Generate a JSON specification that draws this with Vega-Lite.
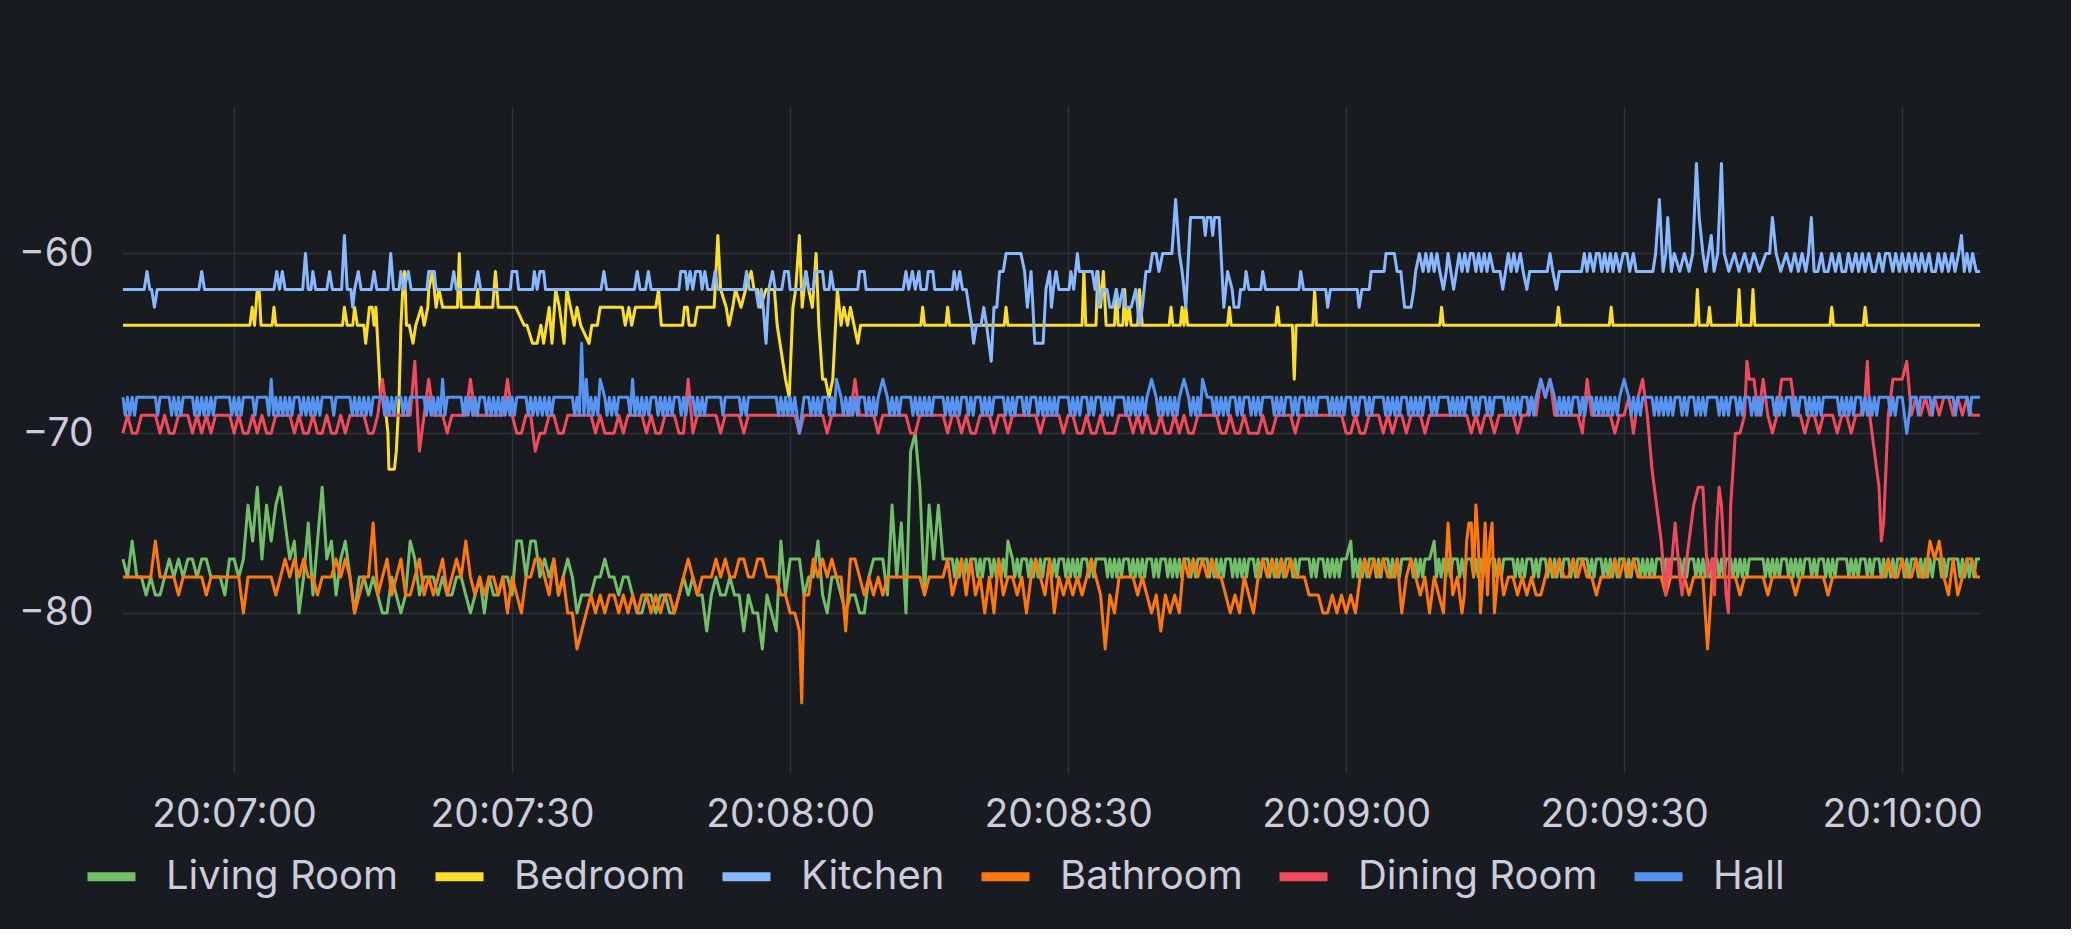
{
"$schema": "https://vega.github.io/schema/vega-lite/v6.json",
"width": 1858,
"height": 667,
"autosize": {"type": "none"},
"padding": {"left": 122, "top": 106, "right": 91, "bottom": 156},
"background": "#181b1f",
"config": {"view": {"stroke": null}, "font": "Inter"},
"data": {"values": [
{"s":408,"L":-77,"B":-64,"K":-62,"T":-78,"D":-70,"H":-68},
{"s":408.5,"L":-78,"T":-78,"D":-69,"H":-68},
{"s":409,"L":-76,"T":-78,"D":-70,"H":-68},
{"s":409.5,"L":-78,"T":-78,"D":-70,"H":-68},
{"s":410,"L":-78,"T":-78,"D":-69,"H":-68},
{"s":410.5,"L":-79,"T":-78,"D":-69,"H":-68},
{"s":411,"L":-78,"T":-78,"D":-69,"H":-68},
{"s":411.5,"L":-79,"T":-76,"D":-69,"H":-68},
{"s":412,"L":-79,"T":-78,"D":-70,"H":-68},
{"s":412.5,"L":-78,"T":-78,"D":-69,"H":-68},
{"s":413,"L":-77,"T":-78,"D":-70,"H":-68},
{"s":413.5,"L":-78,"T":-78,"D":-70,"H":-68},
{"s":414,"L":-77,"T":-79,"D":-69,"H":-68},
{"s":414.5,"L":-78,"T":-78,"D":-69,"H":-68},
{"s":415,"L":-77,"T":-78,"D":-69,"H":-68},
{"s":415.5,"L":-77,"T":-78,"D":-70,"H":-68},
{"s":416,"L":-78,"T":-78,"D":-69,"H":-68},
{"s":416.5,"L":-77,"T":-78,"D":-70,"H":-68},
{"s":417,"L":-77,"T":-79,"D":-69,"H":-68},
{"s":417.5,"L":-78,"T":-78,"D":-70,"H":-68},
{"s":418,"L":-78,"T":-78,"D":-69,"H":-68},
{"s":418.5,"L":-78,"T":-78,"D":-69,"H":-68},
{"s":419,"L":-79,"T":-78,"D":-69,"H":-68},
{"s":419.5,"L":-77,"T":-78,"D":-69,"H":-68},
{"s":420,"L":-77,"T":-78,"D":-70,"H":-68},
{"s":420.5,"L":-78,"T":-78,"D":-69,"H":-68},
{"s":421,"L":-77,"T":-80,"D":-70,"H":-68},
{"s":421.5,"L":-74,"T":-78,"D":-70,"H":-68},
{"s":422,"L":-76,"T":-78,"D":-69,"H":-68},
{"s":422.5,"L":-73,"T":-78,"D":-70,"H":-68},
{"s":423,"L":-77,"T":-78,"D":-69,"H":-68},
{"s":423.5,"L":-74,"T":-78,"D":-70,"H":-68},
{"s":424,"L":-76,"T":-78,"D":-70,"H":-67},
{"s":424.5,"L":-74,"T":-79,"D":-69,"H":-68},
{"s":425,"L":-73,"T":-78,"D":-69,"H":-68},
{"s":425.5,"L":-75,"T":-77,"D":-69,"H":-68},
{"s":426,"L":-77,"T":-78,"D":-69,"H":-68},
{"s":426.5,"L":-76,"T":-77,"D":-70,"H":-68},
{"s":427,"L":-80,"T":-78,"D":-69,"H":-68},
{"s":427.5,"L":-78,"T":-77,"D":-70,"H":-68},
{"s":428,"L":-75,"T":-78,"D":-70,"H":-68},
{"s":428.5,"L":-79,"T":-78,"D":-69,"H":-68},
{"s":429,"L":-76,"T":-79,"D":-70,"H":-68},
{"s":429.5,"L":-73,"T":-78,"D":-70,"H":-68},
{"s":430,"L":-77,"T":-78,"D":-69,"H":-68},
{"s":430.5,"L":-76,"T":-78,"D":-70,"H":-68},
{"s":431,"L":-79,"T":-77,"D":-70,"H":-68},
{"s":431.5,"L":-77,"T":-78,"D":-69,"H":-68},
{"s":432,"L":-76,"T":-77,"D":-70,"H":-68},
{"s":432.5,"L":-78,"T":-78,"D":-69,"H":-68},
{"s":433,"L":-80,"T":-80,"D":-69,"H":-68},
{"s":433.5,"L":-78,"T":-79,"D":-69,"H":-68},
{"s":434,"L":-78,"T":-78,"D":-69,"H":-68},
{"s":434.5,"L":-79,"T":-78,"D":-70,"H":-68},
{"s":435,"L":-78,"T":-75,"D":-70,"H":-68},
{"s":435.5,"L":-79,"T":-79,"D":-69,"H":-68},
{"s":436,"L":-80,"T":-78,"D":-67,"H":-68},
{"s":436.5,"L":-80,"T":-77,"D":-69,"H":-68},
{"s":437,"L":-78,"T":-79,"D":-69,"H":-68},
{"s":437.5,"L":-79,"T":-78,"D":-69,"H":-68},
{"s":438,"L":-80,"T":-77,"D":-69,"H":-68},
{"s":438.5,"L":-79,"T":-79,"D":-69,"H":-68},
{"s":439,"L":-76,"T":-79,"D":-69,"H":-68},
{"s":439.5,"L":-77,"T":-78,"D":-66,"H":-68},
{"s":440,"L":-79,"T":-77,"D":-71,"H":-68},
{"s":440.5,"L":-78,"T":-79,"D":-69,"H":-68},
{"s":441,"L":-78,"T":-78,"D":-67,"H":-68},
{"s":441.5,"L":-78,"T":-79,"D":-69,"H":-68},
{"s":442,"L":-79,"T":-78,"D":-69,"H":-68},
{"s":442.5,"L":-78,"T":-77,"D":-69,"H":-67},
{"s":443,"L":-79,"T":-79,"D":-70,"H":-68},
{"s":443.5,"L":-79,"T":-78,"D":-69,"H":-68},
{"s":444,"L":-78,"T":-77,"D":-69,"H":-68},
{"s":444.5,"L":-78,"T":-78,"D":-69,"H":-68},
{"s":445,"L":-79,"T":-76,"D":-69,"H":-68},
{"s":445.5,"L":-80,"T":-78,"D":-67,"H":-68},
{"s":446,"L":-79,"T":-79,"D":-69,"H":-68},
{"s":446.5,"L":-78,"T":-78,"D":-69,"H":-68},
{"s":447,"L":-80,"T":-79,"D":-69,"H":-68},
{"s":447.5,"L":-78,"T":-78,"D":-69,"H":-68},
{"s":448,"L":-79,"T":-78,"D":-69,"H":-68},
{"s":448.5,"L":-79,"T":-79,"D":-69,"H":-68},
{"s":449,"L":-78,"T":-78,"D":-69,"H":-68},
{"s":449.5,"L":-78,"T":-80,"D":-67,"H":-68},
{"s":450,"L":-79,"T":-78,"D":-69,"H":-68},
{"s":450.5,"L":-76,"T":-79,"D":-70,"H":-68},
{"s":451,"L":-76,"T":-80,"D":-70,"H":-68},
{"s":451.5,"L":-78,"T":-78,"D":-69,"H":-68},
{"s":452,"L":-76,"T":-78,"D":-69,"H":-68},
{"s":452.5,"L":-76,"T":-77,"D":-71,"H":-68},
{"s":453,"L":-78,"T":-77,"D":-70,"H":-68},
{"s":453.5,"L":-77,"T":-78,"D":-70,"H":-68},
{"s":454,"L":-78,"T":-79,"D":-69,"H":-68},
{"s":454.5,"L":-77,"T":-77,"D":-69,"H":-68},
{"s":455,"L":-79,"T":-79,"D":-70,"H":-68},
{"s":455.5,"L":-78,"T":-78,"D":-70,"H":-68},
{"s":456,"L":-77,"T":-80,"D":-69,"H":-68},
{"s":456.5,"L":-78,"T":-80,"D":-69,"H":-68},
{"s":457,"L":-80,"T":-82,"D":-69,"H":-68},
{"s":457.5,"L":-79,"T":-81,"D":-69,"H":-65},
{"s":458,"L":-79,"T":-80,"D":-69,"H":-67},
{"s":458.5,"L":-79,"T":-79,"D":-69,"H":-68},
{"s":459,"L":-78,"T":-80,"D":-70,"H":-68},
{"s":459.5,"L":-78,"T":-79,"D":-69,"H":-67},
{"s":460,"L":-77,"T":-80,"D":-70,"H":-68},
{"s":460.5,"L":-78,"T":-79,"D":-70,"H":-68},
{"s":461,"L":-78,"T":-79,"D":-70,"H":-68},
{"s":461.5,"L":-79,"T":-80,"D":-69,"H":-68},
{"s":462,"L":-78,"T":-79,"D":-70,"H":-68},
{"s":462.5,"L":-78,"T":-80,"D":-69,"H":-68},
{"s":463,"L":-79,"T":-79,"D":-69,"H":-67},
{"s":463.5,"L":-80,"T":-80,"D":-69,"H":-68},
{"s":464,"L":-80,"T":-79,"D":-69,"H":-68},
{"s":464.5,"L":-79,"T":-79,"D":-70,"H":-68},
{"s":465,"L":-79,"T":-80,"D":-69,"H":-68},
{"s":465.5,"L":-80,"T":-79,"D":-70,"H":-68},
{"s":466,"L":-79,"T":-80,"D":-70,"H":-68},
{"s":466.5,"L":-79,"T":-79,"D":-69,"H":-68},
{"s":467,"L":-80,"T":-79,"D":-69,"H":-68},
{"s":467.5,"L":-80,"T":-80,"D":-69,"H":-68},
{"s":468,"L":-79,"T":-79,"D":-70,"H":-68},
{"s":468.5,"L":-78,"T":-78,"D":-70,"H":-68},
{"s":469,"L":-79,"T":-77,"D":-67,"H":-68},
{"s":469.5,"L":-78,"T":-78,"D":-70,"H":-68},
{"s":470,"L":-79,"T":-79,"D":-69,"H":-68},
{"s":470.5,"L":-79,"T":-78,"D":-69,"H":-68},
{"s":471,"L":-81,"T":-78,"D":-69,"H":-68},
{"s":471.5,"L":-79,"T":-78,"D":-69,"H":-68},
{"s":472,"L":-78,"T":-77,"D":-69,"H":-68},
{"s":472.5,"L":-79,"T":-78,"D":-70,"H":-68},
{"s":473,"L":-79,"T":-77,"D":-69,"H":-68},
{"s":473.5,"L":-78,"T":-78,"D":-69,"H":-68},
{"s":474,"L":-79,"T":-78,"D":-69,"H":-68},
{"s":474.5,"L":-79,"T":-77,"D":-69,"H":-68},
{"s":475,"L":-81,"T":-77,"D":-70,"H":-68},
{"s":475.5,"L":-79,"T":-78,"D":-69,"H":-68},
{"s":476,"L":-80,"T":-78,"D":-69,"H":-68},
{"s":476.5,"L":-80,"T":-77,"D":-69,"H":-68},
{"s":477,"L":-82,"T":-77,"D":-69,"H":-68},
{"s":477.5,"L":-79,"T":-78,"D":-69,"H":-68},
{"s":478,"L":-80,"T":-78,"D":-69,"H":-68},
{"s":478.5,"L":-81,"T":-78,"D":-69,"H":-68},
{"s":479,"L":-76,"T":-79,"D":-69,"H":-68},
{"s":479.5,"L":-79,"T":-79,"D":-69,"H":-68},
{"s":480,"L":-77,"T":-80,"D":-69,"H":-68},
{"s":480.5,"L":-77,"T":-80,"D":-69,"H":-68},
{"s":481,"L":-77,"T":-81,"D":-70,"H":-70},
{"s":481.25,"T":-85},
{"s":481.5,"L":-79,"T":-79,"D":-69,"H":-68},
{"s":482,"L":-78,"T":-79,"D":-69,"H":-68},
{"s":482.5,"L":-78,"T":-77,"D":-69,"H":-68},
{"s":483,"L":-76,"T":-78,"D":-69,"H":-68},
{"s":483.5,"L":-79,"T":-77,"D":-69,"H":-68},
{"s":484,"L":-80,"T":-78,"D":-70,"H":-68},
{"s":484.5,"L":-78,"T":-77,"D":-69,"H":-68},
{"s":485,"L":-78,"T":-78,"D":-69,"H":-67},
{"s":485.5,"L":-79,"T":-78,"D":-69,"H":-68},
{"s":486,"L":-80,"T":-81,"D":-69,"H":-68},
{"s":486.5,"L":-79,"T":-77,"D":-69,"H":-68},
{"s":487,"L":-79,"T":-77,"D":-67,"H":-68},
{"s":487.5,"L":-80,"T":-78,"D":-69,"H":-68},
{"s":488,"L":-80,"T":-79,"D":-69,"H":-68},
{"s":488.5,"L":-78,"T":-78,"D":-69,"H":-68},
{"s":489,"L":-77,"T":-79,"D":-69,"H":-68},
{"s":489.5,"L":-77,"T":-78,"D":-70,"H":-68},
{"s":490,"L":-77,"T":-79,"D":-69,"H":-67},
{"s":490.5,"L":-79,"T":-78,"D":-69,"H":-68},
{"s":491,"L":-74,"T":-78,"D":-69,"H":-68},
{"s":491.5,"L":-78,"T":-78,"D":-69,"H":-68},
{"s":492,"L":-75,"T":-78,"D":-69,"H":-68},
{"s":492.5,"L":-80,"T":-78,"D":-69,"H":-68},
{"s":493,"L":-71,"T":-78,"D":-70,"H":-68},
{"s":493.5,"L":-70,"T":-78,"D":-70,"H":-68},
{"s":494,"L":-73,"T":-78,"D":-69,"H":-68},
{"s":494.5,"L":-79,"T":-79,"D":-69,"H":-68},
{"s":495,"L":-74,"T":-78,"D":-69,"H":-68},
{"s":495.5,"L":-77,"T":-78,"D":-69,"H":-68},
{"s":496,"L":-74,"T":-78,"D":-69,"H":-68},
{"s":496.5,"L":-77,"T":-78,"D":-69,"H":-68},
{"s":497,"L":-77,"T":-77,"D":-70,"H":-68},
{"s":497.5,"L":-77,"T":-79,"D":-69,"H":-68},
{"s":498,"L":-77,"T":-78,"D":-69,"H":-68},
{"s":498.5,"L":-77,"T":-77,"D":-70,"H":-68},
{"s":499,"L":-77,"T":-79,"D":-69,"H":-68},
{"s":499.5,"L":-77,"T":-77,"D":-70,"H":-68},
{"s":500,"L":-77,"T":-79,"D":-70,"H":-68},
{"s":500.5,"L":-77,"T":-78,"D":-69,"H":-68},
{"s":501,"L":-77,"T":-80,"D":-69,"H":-68},
{"s":501.5,"L":-77,"T":-78,"D":-69,"H":-68},
{"s":502,"L":-77,"T":-80,"D":-70,"H":-68},
{"s":502.5,"L":-77,"T":-77,"D":-69,"H":-68},
{"s":503,"L":-77,"T":-79,"D":-69,"H":-68},
{"s":503.5,"L":-76,"T":-78,"D":-70,"H":-68},
{"s":504,"L":-77,"T":-78,"D":-69,"H":-68},
{"s":504.5,"L":-77,"T":-79,"D":-69,"H":-68},
{"s":505,"L":-77,"T":-78,"D":-69,"H":-68},
{"s":505.5,"L":-77,"T":-80,"D":-69,"H":-68},
{"s":506,"L":-77,"T":-78,"D":-69,"H":-68},
{"s":506.5,"L":-77,"T":-77,"D":-69,"H":-68},
{"s":507,"L":-77,"T":-78,"D":-70,"H":-68},
{"s":507.5,"L":-77,"T":-79,"D":-69,"H":-68},
{"s":508,"L":-77,"T":-77,"D":-69,"H":-68},
{"s":508.5,"L":-77,"T":-80,"D":-69,"H":-68},
{"s":509,"L":-77,"T":-78,"D":-69,"H":-68},
{"s":509.5,"L":-77,"T":-79,"D":-70,"H":-68},
{"s":510,"L":-77,"T":-78,"D":-69,"H":-68},
{"s":510.5,"L":-77,"T":-79,"D":-69,"H":-68},
{"s":511,"L":-77,"T":-78,"D":-70,"H":-68},
{"s":511.5,"L":-77,"T":-79,"D":-70,"H":-68},
{"s":512,"L":-77,"T":-78,"D":-69,"H":-68},
{"s":512.5,"L":-77,"T":-77,"D":-70,"H":-68},
{"s":513,"L":-77,"T":-78,"D":-70,"H":-68},
{"s":513.5,"L":-77,"T":-79,"D":-69,"H":-68},
{"s":514,"L":-77,"T":-82,"D":-70,"H":-68},
{"s":514.5,"L":-77,"T":-79,"D":-70,"H":-68},
{"s":515,"L":-77,"T":-80,"D":-70,"H":-68},
{"s":515.5,"L":-77,"T":-78,"D":-69,"H":-68},
{"s":516,"L":-77,"T":-78,"D":-69,"H":-68},
{"s":516.5,"L":-77,"T":-78,"D":-69,"H":-68},
{"s":517,"L":-77,"T":-78,"D":-70,"H":-68},
{"s":517.5,"L":-77,"T":-79,"D":-69,"H":-68},
{"s":518,"L":-77,"T":-78,"D":-70,"H":-68},
{"s":518.5,"L":-77,"T":-79,"D":-69,"H":-68},
{"s":519,"L":-77,"T":-80,"D":-70,"H":-67},
{"s":519.5,"L":-77,"T":-79,"D":-70,"H":-68},
{"s":520,"L":-77,"T":-81,"D":-69,"H":-68},
{"s":520.5,"L":-77,"T":-79,"D":-70,"H":-68},
{"s":521,"L":-77,"T":-80,"D":-70,"H":-68},
{"s":521.5,"L":-77,"T":-79,"D":-69,"H":-68},
{"s":522,"L":-77,"T":-80,"D":-70,"H":-68},
{"s":522.5,"L":-77,"T":-77,"D":-69,"H":-67},
{"s":523,"L":-77,"T":-78,"D":-70,"H":-68},
{"s":523.5,"L":-77,"T":-77,"D":-70,"H":-68},
{"s":524,"L":-77,"T":-78,"D":-69,"H":-68},
{"s":524.5,"L":-77,"T":-77,"D":-69,"H":-67},
{"s":525,"L":-77,"T":-78,"D":-69,"H":-68},
{"s":525.5,"L":-77,"T":-77,"D":-69,"H":-68},
{"s":526,"L":-77,"T":-78,"D":-69,"H":-68},
{"s":526.5,"L":-77,"T":-78,"D":-70,"H":-68},
{"s":527,"L":-77,"T":-79,"D":-70,"H":-68},
{"s":527.5,"L":-77,"T":-80,"D":-69,"H":-68},
{"s":528,"L":-77,"T":-79,"D":-70,"H":-68},
{"s":528.5,"L":-77,"T":-80,"D":-70,"H":-68},
{"s":529,"L":-77,"T":-78,"D":-69,"H":-68},
{"s":529.5,"L":-77,"T":-79,"D":-70,"H":-68},
{"s":530,"L":-77,"T":-80,"D":-70,"H":-68},
{"s":530.5,"L":-77,"T":-78,"D":-70,"H":-68},
{"s":531,"L":-77,"T":-77,"D":-69,"H":-68},
{"s":531.5,"L":-77,"T":-78,"D":-70,"H":-68},
{"s":532,"L":-77,"T":-77,"D":-70,"H":-68},
{"s":532.5,"L":-77,"T":-78,"D":-69,"H":-68},
{"s":533,"L":-77,"T":-77,"D":-69,"H":-68},
{"s":533.5,"L":-77,"T":-78,"D":-69,"H":-68},
{"s":534,"L":-77,"T":-77,"D":-69,"H":-68},
{"s":534.5,"L":-77,"T":-78,"D":-70,"H":-68},
{"s":535,"L":-77,"T":-78,"D":-69,"H":-68},
{"s":535.5,"L":-77,"T":-78,"D":-69,"H":-68},
{"s":536,"L":-77,"T":-79,"D":-69,"H":-68},
{"s":536.5,"L":-77,"T":-79,"D":-69,"H":-68},
{"s":537,"L":-77,"T":-79,"D":-69,"H":-68},
{"s":537.5,"L":-77,"T":-80,"D":-69,"H":-68},
{"s":538,"L":-77,"T":-80,"D":-69,"H":-68},
{"s":538.5,"L":-77,"T":-79,"D":-69,"H":-68},
{"s":539,"L":-77,"T":-80,"D":-69,"H":-68},
{"s":539.5,"L":-77,"T":-79,"D":-69,"H":-68},
{"s":540,"L":-77,"T":-80,"D":-70,"H":-68},
{"s":540.5,"L":-76,"T":-79,"D":-70,"H":-68},
{"s":541,"L":-77,"T":-80,"D":-69,"H":-68},
{"s":541.5,"L":-77,"T":-78,"D":-70,"H":-68},
{"s":542,"L":-77,"T":-77,"D":-70,"H":-68},
{"s":542.5,"L":-77,"T":-78,"D":-69,"H":-68},
{"s":543,"L":-77,"T":-77,"D":-69,"H":-68},
{"s":543.5,"L":-77,"T":-78,"D":-69,"H":-68},
{"s":544,"L":-77,"T":-77,"D":-70,"H":-68},
{"s":544.5,"L":-77,"T":-78,"D":-69,"H":-68},
{"s":545,"L":-77,"T":-78,"D":-70,"H":-68},
{"s":545.5,"L":-77,"T":-77,"D":-69,"H":-68},
{"s":546,"L":-77,"T":-80,"D":-69,"H":-68},
{"s":546.5,"L":-77,"T":-78,"D":-70,"H":-68},
{"s":547,"L":-77,"T":-77,"D":-69,"H":-68},
{"s":547.5,"L":-77,"T":-78,"D":-69,"H":-68},
{"s":548,"L":-77,"T":-79,"D":-69,"H":-68},
{"s":548.5,"L":-77,"T":-78,"D":-70,"H":-68},
{"s":549,"L":-77,"T":-80,"D":-69,"H":-68},
{"s":549.5,"L":-76,"T":-78,"D":-69,"H":-68},
{"s":550,"L":-77,"T":-79,"D":-69,"H":-68},
{"s":550.5,"L":-77,"T":-80,"D":-69,"H":-68},
{"s":551,"L":-77,"T":-75,"D":-69,"H":-68},
{"s":551.5,"L":-77,"T":-79,"D":-69,"H":-68},
{"s":552,"L":-77,"T":-78,"D":-69,"H":-68},
{"s":552.5,"L":-77,"T":-80,"D":-69,"H":-68},
{"s":552.75,"T":-79},
{"s":553,"L":-77,"T":-76,"D":-69,"H":-68},
{"s":553.25,"T":-75},
{"s":553.5,"L":-77,"T":-75,"D":-70,"H":-68},
{"s":553.75,"T":-78},
{"s":554,"L":-77,"T":-74,"D":-69,"H":-68},
{"s":554.25,"T":-76},
{"s":554.5,"L":-77,"T":-80,"D":-70,"H":-68},
{"s":554.75,"T":-78},
{"s":555,"L":-77,"T":-75,"D":-69,"H":-68},
{"s":555.25,"T":-79},
{"s":555.5,"L":-77,"T":-76,"D":-69,"H":-68},
{"s":555.75,"T":-75},
{"s":556,"L":-77,"T":-80,"D":-70,"H":-68},
{"s":556.5,"L":-77,"T":-77,"D":-69,"H":-68},
{"s":557,"L":-77,"T":-79,"D":-69,"H":-68},
{"s":557.5,"L":-77,"T":-78,"D":-69,"H":-68},
{"s":558,"L":-77,"T":-78,"D":-69,"H":-68},
{"s":558.5,"L":-77,"T":-79,"D":-70,"H":-68},
{"s":559,"L":-77,"T":-78,"D":-69,"H":-68},
{"s":559.5,"L":-77,"T":-79,"D":-69,"H":-68},
{"s":560,"L":-77,"T":-78,"D":-68,"H":-68},
{"s":560.5,"L":-77,"T":-79,"D":-69,"H":-68},
{"s":561,"L":-77,"T":-79,"D":-67,"H":-67},
{"s":561.5,"L":-77,"T":-78,"D":-68,"H":-68},
{"s":562,"L":-77,"T":-77,"D":-67,"H":-67},
{"s":562.5,"L":-77,"T":-78,"D":-69,"H":-68},
{"s":563,"L":-77,"T":-77,"D":-69,"H":-68},
{"s":563.5,"L":-77,"T":-78,"D":-69,"H":-68},
{"s":564,"L":-77,"T":-78,"D":-69,"H":-68},
{"s":564.5,"L":-77,"T":-77,"D":-69,"H":-68},
{"s":565,"L":-77,"T":-78,"D":-69,"H":-68},
{"s":565.5,"L":-77,"T":-77,"D":-70,"H":-68},
{"s":566,"L":-77,"T":-78,"D":-67,"H":-68},
{"s":566.5,"L":-77,"T":-78,"D":-69,"H":-68},
{"s":567,"L":-77,"T":-79,"D":-69,"H":-68},
{"s":567.5,"L":-77,"T":-78,"D":-69,"H":-68},
{"s":568,"L":-77,"T":-78,"D":-69,"H":-68},
{"s":568.5,"L":-77,"T":-78,"D":-69,"H":-68},
{"s":569,"L":-77,"T":-77,"D":-70,"H":-68},
{"s":569.5,"L":-77,"T":-78,"D":-69,"H":-68},
{"s":570,"L":-77,"T":-77,"D":-69,"H":-67},
{"s":570.5,"L":-77,"T":-78,"D":-68,"H":-68},
{"s":571,"L":-77,"T":-77,"D":-70,"H":-68},
{"s":571.5,"L":-77,"T":-78,"D":-68,"H":-68},
{"s":572,"L":-77,"T":-78,"D":-67,"H":-68},
{"s":572.5,"L":-77,"T":-78,"D":-69,"H":-68},
{"s":573,"L":-77,"T":-78,"D":-72,"H":-68},
{"s":573.5,"L":-77,"T":-78,"D":-74,"H":-68},
{"s":574,"L":-77,"T":-78,"D":-76,"H":-68},
{"s":574.5,"L":-77,"T":-79,"D":-79,"H":-68},
{"s":574.75,"D":-77},
{"s":575,"L":-77,"T":-78,"D":-78,"H":-68},
{"s":575.5,"L":-77,"T":-78,"D":-75,"H":-68},
{"s":576,"L":-77,"T":-78,"D":-78,"H":-68},
{"s":576.25,"D":-79},
{"s":576.5,"L":-77,"T":-78,"D":-78,"H":-68},
{"s":577,"L":-77,"T":-79,"D":-76,"H":-68},
{"s":577.5,"L":-77,"T":-78,"D":-74,"H":-68},
{"s":578,"L":-77,"T":-78,"D":-73,"H":-68},
{"s":578.5,"L":-77,"T":-78,"D":-73,"H":-68},
{"s":579,"L":-77,"T":-82,"D":-78,"H":-68},
{"s":579.5,"L":-77,"T":-78,"D":-77,"H":-68},
{"s":579.75,"D":-79},
{"s":580,"L":-77,"T":-78,"D":-75,"H":-68},
{"s":580.25,"D":-73},
{"s":580.5,"L":-77,"T":-78,"D":-74,"H":-68},
{"s":581,"L":-77,"T":-78,"D":-79,"H":-68},
{"s":581.25,"D":-80},
{"s":581.5,"L":-77,"T":-78,"D":-74,"H":-68},
{"s":582,"L":-77,"T":-78,"D":-70,"H":-68},
{"s":582.5,"L":-77,"T":-79,"D":-70,"H":-68},
{"s":583,"L":-77,"T":-78,"D":-69,"H":-68},
{"s":583.25,"D":-66},
{"s":583.5,"L":-77,"T":-78,"D":-67,"H":-68},
{"s":584,"L":-77,"T":-78,"D":-67,"H":-68},
{"s":584.5,"L":-77,"T":-78,"D":-69,"H":-68},
{"s":585,"L":-77,"T":-78,"D":-67,"H":-68},
{"s":585.5,"L":-77,"T":-79,"D":-69,"H":-68},
{"s":586,"L":-77,"T":-78,"D":-70,"H":-68},
{"s":586.5,"L":-77,"T":-78,"D":-69,"H":-68},
{"s":587,"L":-77,"T":-78,"D":-67,"H":-68},
{"s":587.5,"L":-77,"T":-78,"D":-67,"H":-68},
{"s":588,"L":-77,"T":-78,"D":-67,"H":-68},
{"s":588.5,"L":-77,"T":-79,"D":-69,"H":-68},
{"s":589,"L":-77,"T":-78,"D":-69,"H":-68},
{"s":589.5,"L":-77,"T":-78,"D":-70,"H":-68},
{"s":590,"L":-77,"T":-78,"D":-69,"H":-68},
{"s":590.5,"L":-77,"T":-78,"D":-69,"H":-68},
{"s":591,"L":-77,"T":-78,"D":-70,"H":-68},
{"s":591.5,"L":-77,"T":-78,"D":-69,"H":-68},
{"s":592,"L":-77,"T":-79,"D":-69,"H":-68},
{"s":592.5,"L":-77,"T":-78,"D":-69,"H":-68},
{"s":593,"L":-77,"T":-78,"D":-70,"H":-68},
{"s":593.5,"L":-77,"T":-78,"D":-69,"H":-68},
{"s":594,"L":-77,"T":-78,"D":-69,"H":-68},
{"s":594.5,"L":-77,"T":-78,"D":-70,"H":-68},
{"s":595,"L":-77,"T":-78,"D":-69,"H":-68},
{"s":595.5,"L":-77,"T":-78,"D":-69,"H":-68},
{"s":596,"L":-77,"T":-78,"D":-68,"H":-68},
{"s":596.25,"D":-66},
{"s":596.5,"L":-77,"T":-78,"D":-69,"H":-68},
{"s":597,"L":-77,"T":-78,"D":-71,"H":-68},
{"s":597.5,"L":-77,"T":-78,"D":-73,"H":-68},
{"s":597.75,"D":-76},
{"s":598,"L":-77,"T":-78,"D":-75,"H":-68},
{"s":598.25,"D":-72},
{"s":598.5,"L":-77,"T":-77,"D":-69,"H":-68},
{"s":599,"L":-77,"T":-78,"D":-67,"H":-68},
{"s":599.5,"L":-77,"T":-78,"D":-67,"H":-68},
{"s":600,"L":-77,"T":-77,"D":-67,"H":-68},
{"s":600.5,"L":-77,"T":-78,"D":-66,"H":-70},
{"s":601,"L":-77,"T":-78,"D":-69,"H":-68},
{"s":601.5,"L":-77,"T":-77,"D":-68,"H":-68},
{"s":602,"L":-77,"T":-78,"D":-69,"H":-68},
{"s":602.5,"L":-77,"T":-78,"D":-68,"H":-68},
{"s":603,"L":-77,"T":-76,"D":-69,"H":-68},
{"s":603.5,"L":-77,"T":-77,"D":-68,"H":-68},
{"s":604,"L":-77,"T":-76,"D":-69,"H":-68},
{"s":604.5,"L":-77,"T":-78,"D":-68,"H":-68},
{"s":605,"L":-77,"T":-79,"D":-68,"H":-68},
{"s":605.5,"L":-77,"T":-77,"D":-69,"H":-68},
{"s":606,"L":-77,"T":-79,"D":-68,"H":-68},
{"s":606.5,"L":-77,"T":-78,"D":-69,"H":-68},
{"s":607,"L":-77,"T":-77,"D":-68,"H":-68},
{"s":607.5,"L":-77,"T":-77,"D":-69,"H":-68},
{"s":608,"L":-77,"T":-78,"D":-69,"H":-68},
{"s":608.4,"L":-77,"B":-64,"K":-61,"T":-78,"D":-69,"H":-68},
{"s":408.25,"H":-69},{"s":408.75,"H":-69},{"s":409.25,"H":-69},{"s":411.75,"H":-69},{"s":413.25,"H":-69},{"s":413.75,"H":-69},{"s":414.25,"H":-69},{"s":415.75,"H":-69},{"s":416.25,"H":-69},{"s":416.75,"H":-69},{"s":417.25,"H":-69},{"s":417.75,"H":-69},
{"s":419.75,"H":-69},{"s":420.25,"H":-69},{"s":420.75,"H":-69},{"s":422.25,"H":-69},{"s":423.75,"H":-69},{"s":424.25,"H":-69},{"s":424.75,"H":-69},{"s":425.25,"H":-69},{"s":425.75,"H":-69},{"s":426.25,"H":-69},{"s":427.25,"H":-69},{"s":427.75,"H":-69},
{"s":428.25,"H":-69},{"s":428.75,"H":-69},{"s":429.25,"H":-69},{"s":430.75,"H":-69},{"s":432.75,"H":-69},{"s":433.25,"H":-69},{"s":433.75,"H":-69},{"s":434.25,"H":-69},{"s":434.75,"H":-69},{"s":436.25,"H":-69},{"s":436.75,"H":-69},{"s":437.25,"H":-69},
{"s":438.25,"H":-69},{"s":438.75,"H":-69},{"s":440.75,"H":-69},{"s":441.25,"H":-69},{"s":441.75,"H":-69},{"s":442.25,"H":-69},{"s":442.75,"H":-69},{"s":444.75,"H":-69},{"s":445.25,"H":-69},{"s":445.75,"H":-69},{"s":446.25,"H":-69},{"s":447.25,"H":-69},{"s":447.75,"H":-69},
{"s":448.25,"H":-69},{"s":448.75,"H":-69},{"s":449.25,"H":-69},{"s":449.75,"H":-69},{"s":450.25,"H":-69},{"s":451.75,"H":-69},{"s":452.25,"H":-69},{"s":452.75,"H":-69},{"s":453.25,"H":-69},{"s":453.75,"H":-69},{"s":454.25,"H":-69},{"s":456.75,"H":-69},{"s":457.25,"H":-69},{"s":457.75,"H":-69},
{"s":458.25,"H":-69},{"s":458.75,"H":-69},{"s":459.25,"H":-69},{"s":460.25,"H":-69},{"s":460.75,"H":-69},{"s":461.25,"H":-69},{"s":462.75,"H":-69},{"s":463.25,"H":-69},{"s":463.75,"H":-69},{"s":464.25,"H":-69},{"s":464.75,"H":-69},{"s":465.75,"H":-69},{"s":466.25,"H":-69},{"s":466.75,"H":-69},{"s":467.25,"H":-69},
{"s":468.25,"H":-69},{"s":468.75,"H":-69},{"s":469.75,"H":-69},{"s":470.25,"H":-69},{"s":470.75,"H":-69},{"s":472.75,"H":-69},{"s":474.75,"H":-69},{"s":475.25,"H":-69},
{"s":478.75,"H":-69},{"s":479.25,"H":-69},{"s":479.75,"H":-69},{"s":480.25,"H":-69},{"s":480.75,"H":-69},{"s":482.25,"H":-69},{"s":482.75,"H":-69},{"s":483.25,"H":-69},{"s":484.25,"H":-69},{"s":484.75,"H":-69},{"s":485.75,"H":-69},{"s":486.25,"H":-69},{"s":486.75,"H":-69},{"s":487.25,"H":-69},
{"s":488.25,"H":-69},{"s":488.75,"H":-69},{"s":489.25,"H":-69},{"s":490.75,"H":-69},{"s":491.25,"H":-69},{"s":491.75,"H":-69},{"s":493.25,"H":-69},{"s":493.75,"H":-69},{"s":494.25,"H":-69},{"s":494.75,"H":-69},{"s":495.25,"H":-69},{"s":496.75,"H":-69},{"s":497.25,"H":-69},{"s":497.75,"H":-69},
{"s":498.25,"H":-69},{"s":499.25,"H":-69},{"s":499.75,"H":-69},{"s":500.75,"H":-69},{"s":501.25,"H":-69},{"s":501.75,"H":-69},{"s":503.25,"H":-69},{"s":503.75,"H":-69},{"s":504.25,"H":-69},{"s":505.25,"H":-69},{"s":505.75,"H":-69},{"s":506.75,"H":-69},{"s":507.25,"H":-69},{"s":507.75,"H":-69},
{"s":508.25,"H":-69},{"s":508.75,"H":-69},{"s":510.25,"H":-69},{"s":510.75,"H":-69},{"s":511.25,"H":-69},{"s":512.25,"H":-69},{"s":512.75,"H":-69},{"s":513.75,"H":-69},{"s":514.25,"H":-69},{"s":514.75,"H":-69},{"s":516.25,"H":-69},{"s":516.75,"H":-69},{"s":517.25,"H":-69},{"s":517.75,"H":-69},
{"s":518.25,"H":-69},{"s":519.75,"H":-69},{"s":520.25,"H":-69},{"s":520.75,"H":-69},{"s":521.25,"H":-69},{"s":521.75,"H":-69},{"s":523.25,"H":-69},{"s":523.75,"H":-69},{"s":524.25,"H":-69},{"s":525.75,"H":-69},{"s":526.25,"H":-69},{"s":526.75,"H":-69},{"s":527.25,"H":-69},
{"s":528.25,"H":-69},{"s":528.75,"H":-69},{"s":529.75,"H":-69},{"s":530.25,"H":-69},{"s":530.75,"H":-69},{"s":532.25,"H":-69},{"s":532.75,"H":-69},{"s":533.25,"H":-69},{"s":534.25,"H":-69},{"s":534.75,"H":-69},{"s":535.75,"H":-69},{"s":536.25,"H":-69},{"s":536.75,"H":-69},
{"s":538.25,"H":-69},{"s":538.75,"H":-69},{"s":539.25,"H":-69},{"s":539.75,"H":-69},{"s":540.75,"H":-69},{"s":541.25,"H":-69},{"s":542.25,"H":-69},{"s":542.75,"H":-69},{"s":544.25,"H":-69},{"s":544.75,"H":-69},{"s":545.25,"H":-69},{"s":545.75,"H":-69},{"s":546.75,"H":-69},{"s":547.25,"H":-69},{"s":547.75,"H":-69},
{"s":548.25,"H":-69},{"s":549.25,"H":-69},{"s":549.75,"H":-69},{"s":551.25,"H":-69},{"s":551.75,"H":-69},{"s":552.25,"H":-69},{"s":552.75,"H":-69},{"s":553.75,"H":-69},{"s":554.25,"H":-69},{"s":555.25,"H":-69},{"s":555.75,"H":-69},{"s":557.25,"H":-69},{"s":557.75,"H":-69},
{"s":558.25,"H":-69},{"s":558.75,"H":-69},{"s":559.75,"H":-69},{"s":560.25,"H":-69},{"s":562.75,"H":-69},{"s":563.25,"H":-69},{"s":563.75,"H":-69},{"s":564.25,"H":-69},{"s":565.25,"H":-69},{"s":565.75,"H":-69},{"s":566.75,"H":-69},{"s":567.25,"H":-69},{"s":567.75,"H":-69},
{"s":568.25,"H":-69},{"s":568.75,"H":-69},{"s":569.25,"H":-69},{"s":570.75,"H":-69},{"s":571.25,"H":-69},{"s":571.75,"H":-69},{"s":573.25,"H":-69},{"s":573.75,"H":-69},{"s":574.25,"H":-69},{"s":574.75,"H":-69},{"s":575.25,"H":-69},{"s":576.25,"H":-69},{"s":576.75,"H":-69},{"s":577.75,"H":-69},
{"s":578.25,"H":-69},{"s":578.75,"H":-69},{"s":580.25,"H":-69},{"s":580.75,"H":-69},{"s":581.25,"H":-69},{"s":582.25,"H":-69},{"s":582.75,"H":-69},{"s":583.75,"H":-69},{"s":584.25,"H":-69},{"s":584.75,"H":-69},{"s":586.25,"H":-69},{"s":586.75,"H":-69},{"s":587.25,"H":-69},
{"s":588.25,"H":-69},{"s":588.75,"H":-69},{"s":589.75,"H":-69},{"s":590.25,"H":-69},{"s":590.75,"H":-69},{"s":591.25,"H":-69},{"s":593.25,"H":-69},{"s":593.75,"H":-69},{"s":594.25,"H":-69},{"s":594.75,"H":-69},{"s":595.75,"H":-69},{"s":596.25,"H":-69},{"s":596.75,"H":-69},{"s":597.25,"H":-69},
{"s":598.75,"H":-69},{"s":599.25,"H":-69},{"s":601.75,"H":-69},{"s":603.25,"H":-69},{"s":605.75,"H":-69},{"s":607.25,"H":-69},
{"s":497.75,"L":-78},{"s":498.25,"L":-78},{"s":498.75,"L":-78},{"s":499.25,"L":-78},{"s":500.25,"L":-78},{"s":500.75,"L":-78},{"s":501.75,"L":-78},{"s":502.25,"L":-78},{"s":502.75,"L":-78},{"s":503.25,"L":-78},{"s":504.25,"L":-78},{"s":504.75,"L":-78},{"s":505.75,"L":-78},{"s":506.25,"L":-78},{"s":506.75,"L":-78},{"s":507.25,"L":-78},
{"s":508.25,"L":-78},{"s":508.75,"L":-78},{"s":509.75,"L":-78},{"s":510.25,"L":-78},{"s":510.75,"L":-78},{"s":511.25,"L":-78},{"s":512.25,"L":-78},{"s":512.75,"L":-78},{"s":514.25,"L":-78},{"s":514.75,"L":-78},{"s":515.25,"L":-78},{"s":515.75,"L":-78},{"s":516.75,"L":-78},{"s":517.25,"L":-78},{"s":517.75,"L":-78},
{"s":518.25,"L":-78},{"s":519.25,"L":-78},{"s":519.75,"L":-78},{"s":520.75,"L":-78},{"s":521.25,"L":-78},{"s":521.75,"L":-78},{"s":522.25,"L":-78},{"s":523.25,"L":-78},{"s":523.75,"L":-78},{"s":525.25,"L":-78},{"s":525.75,"L":-78},{"s":526.25,"L":-78},{"s":526.75,"L":-78},{"s":527.75,"L":-78},
{"s":528.25,"L":-78},{"s":528.75,"L":-78},{"s":529.25,"L":-78},{"s":530.25,"L":-78},{"s":530.75,"L":-78},{"s":531.75,"L":-78},{"s":532.25,"L":-78},{"s":532.75,"L":-78},{"s":533.25,"L":-78},{"s":534.25,"L":-78},{"s":534.75,"L":-78},{"s":536.25,"L":-78},{"s":536.75,"L":-78},{"s":537.75,"L":-78},
{"s":538.25,"L":-78},{"s":538.75,"L":-78},{"s":539.25,"L":-78},{"s":540.75,"L":-78},{"s":541.25,"L":-78},{"s":541.75,"L":-78},{"s":542.25,"L":-78},{"s":543.25,"L":-78},{"s":543.75,"L":-78},{"s":544.75,"L":-78},{"s":545.25,"L":-78},{"s":545.75,"L":-78},{"s":547.25,"L":-78},{"s":547.75,"L":-78},
{"s":548.25,"L":-78},{"s":549.75,"L":-78},{"s":550.25,"L":-78},{"s":550.75,"L":-78},{"s":551.25,"L":-78},{"s":552.25,"L":-78},{"s":552.75,"L":-78},{"s":553.75,"L":-78},{"s":554.25,"L":-78},{"s":554.75,"L":-78},{"s":555.25,"L":-78},{"s":556.25,"L":-78},{"s":556.75,"L":-78},
{"s":558.25,"L":-78},{"s":558.75,"L":-78},{"s":559.25,"L":-78},{"s":560.25,"L":-78},{"s":560.75,"L":-78},{"s":561.75,"L":-78},{"s":562.25,"L":-78},{"s":562.75,"L":-78},{"s":563.25,"L":-78},{"s":564.25,"L":-78},{"s":564.75,"L":-78},{"s":566.25,"L":-78},{"s":566.75,"L":-78},{"s":567.75,"L":-78},
{"s":568.25,"L":-78},{"s":568.75,"L":-78},{"s":569.25,"L":-78},{"s":570.25,"L":-78},{"s":570.75,"L":-78},{"s":571.75,"L":-78},{"s":572.25,"L":-78},{"s":572.75,"L":-78},{"s":573.25,"L":-78},{"s":574.25,"L":-78},{"s":574.75,"L":-78},{"s":576.25,"L":-78},{"s":576.75,"L":-78},{"s":577.75,"L":-78},
{"s":578.25,"L":-78},{"s":578.75,"L":-78},{"s":579.25,"L":-78},{"s":580.25,"L":-78},{"s":580.75,"L":-78},{"s":581.75,"L":-78},{"s":582.25,"L":-78},{"s":582.75,"L":-78},{"s":583.25,"L":-78},{"s":585.25,"L":-78},{"s":585.75,"L":-78},{"s":586.25,"L":-78},{"s":586.75,"L":-78},{"s":587.75,"L":-78},
{"s":588.25,"L":-78},{"s":588.75,"L":-78},{"s":589.25,"L":-78},{"s":590.25,"L":-78},{"s":590.75,"L":-78},{"s":591.75,"L":-78},{"s":592.25,"L":-78},{"s":592.75,"L":-78},{"s":594.25,"L":-78},{"s":594.75,"L":-78},{"s":595.25,"L":-78},{"s":596.25,"L":-78},{"s":596.75,"L":-78},{"s":597.75,"L":-78},
{"s":598.25,"L":-78},{"s":598.75,"L":-78},{"s":599.25,"L":-78},{"s":600.25,"L":-78},{"s":600.75,"L":-78},{"s":601.75,"L":-78},{"s":602.25,"L":-78},{"s":602.75,"L":-78},{"s":603.25,"L":-78},{"s":604.25,"L":-78},{"s":604.75,"L":-78},{"s":606.25,"L":-78},{"s":606.75,"L":-78},{"s":607.25,"L":-78},{"s":607.75,"L":-78},
{"s":410.3,"K":-62},{"s":410.6,"K":-61},{"s":410.9,"K":-62},{"s":411.1,"K":-62},{"s":411.4,"K":-63},{"s":411.7,"K":-62},
{"s":416.2,"K":-62},{"s":416.5,"K":-61},{"s":416.8,"K":-62},
{"s":424.3,"K":-62},{"s":424.6,"K":-61},{"s":424.9,"K":-62},{"s":425.2,"K":-61},{"s":425.5,"K":-62},
{"s":427.4,"K":-62},{"s":427.7,"K":-60},{"s":428.0,"K":-62},{"s":428.3,"K":-62},{"s":428.5,"K":-61},{"s":428.8,"K":-62},
{"s":430.0,"K":-62},{"s":430.3,"K":-61},{"s":430.6,"K":-62},
{"s":431.6,"K":-62},{"s":431.9,"K":-59},{"s":432.2,"K":-62},{"s":432.6,"K":-62},{"s":432.8,"K":-63},{"s":433.0,"K":-62},{"s":433.4,"K":-61},{"s":433.7,"K":-62},
{"s":434.8,"K":-62},{"s":435.1,"K":-61},{"s":435.4,"K":-62},
{"s":436.6,"K":-62},{"s":436.9,"K":-60},{"s":437.2,"K":-62},{"s":437.8,"K":-62},{"s":438.0,"K":-61},{"s":438.3,"K":-62},{"s":438.8,"K":-61},{"s":439.1,"K":-62},
{"s":440.8,"K":-62},{"s":441.0,"K":-61},{"s":441.6,"K":-61},{"s":441.8,"K":-62},
{"s":443.4,"K":-62},{"s":443.7,"K":-61},{"s":444.0,"K":-62},
{"s":446.0,"K":-62},{"s":446.3,"K":-61},{"s":446.6,"K":-62},
{"s":449.8,"K":-62},{"s":450.0,"K":-61},{"s":450.5,"K":-61},{"s":450.7,"K":-62},
{"s":452.2,"K":-62},{"s":452.4,"K":-61},{"s":452.7,"K":-62},{"s":453.0,"K":-61},{"s":453.4,"K":-61},{"s":453.6,"K":-62},
{"s":459.6,"K":-62},{"s":459.9,"K":-61},{"s":460.2,"K":-62},
{"s":463.2,"K":-62},{"s":463.5,"K":-61},{"s":463.8,"K":-62},{"s":464.4,"K":-62},{"s":464.7,"K":-61},{"s":465.0,"K":-62},
{"s":468.0,"K":-62},{"s":468.2,"K":-61},{"s":468.7,"K":-61},{"s":468.9,"K":-62},{"s":469.2,"K":-61},{"s":469.5,"K":-62},{"s":469.8,"K":-61},{"s":470.3,"K":-61},{"s":470.5,"K":-62},{"s":470.8,"K":-61},{"s":471.1,"K":-62},{"s":471.6,"K":-62},{"s":471.9,"K":-61},{"s":472.2,"K":-62},
{"s":475.0,"K":-62},{"s":475.3,"K":-61},{"s":475.6,"K":-62},{"s":476.3,"K":-62},{"s":476.6,"K":-63},{"s":476.9,"K":-62},{"s":477.1,"K":-63},{"s":477.4,"K":-65},{"s":477.7,"K":-62},{"s":478.1,"K":-61},{"s":478.4,"K":-62},
{"s":479.1,"K":-62},{"s":479.4,"K":-61},{"s":479.8,"K":-61},{"s":480.0,"K":-62},
{"s":481.4,"K":-62},{"s":481.7,"K":-61},{"s":482.0,"K":-62},
{"s":482.5,"K":-62},{"s":482.7,"K":-61},{"s":483.5,"K":-61},{"s":483.7,"K":-62},
{"s":484.2,"K":-62},{"s":484.4,"K":-61},{"s":484.7,"K":-62},
{"s":487.3,"K":-62},{"s":487.5,"K":-61},{"s":488.0,"K":-61},{"s":488.2,"K":-62},
{"s":492.2,"K":-62},{"s":492.5,"K":-61},{"s":492.8,"K":-62},{"s":493.2,"K":-61},{"s":493.5,"K":-62},{"s":493.9,"K":-61},{"s":494.1,"K":-62},{"s":494.7,"K":-62},{"s":494.9,"K":-61},{"s":495.4,"K":-61},{"s":495.6,"K":-62},
{"s":497.5,"K":-62},{"s":497.7,"K":-61},{"s":498.0,"K":-62},{"s":498.3,"K":-61},{"s":498.6,"K":-62},
{"s":499.0,"K":-62},{"s":499.3,"K":-63},{"s":499.6,"K":-64},{"s":499.8,"K":-65},{"s":500.1,"K":-64},{"s":500.6,"K":-64},{"s":500.9,"K":-63},{"s":501.2,"K":-64},{"s":501.7,"K":-66},{"s":502.0,"K":-63},{"s":502.3,"K":-63},{"s":502.6,"K":-61},{"s":503.0,"K":-61},{"s":503.3,"K":-60},{"s":504.9,"K":-60},{"s":505.3,"K":-61},{"s":505.6,"K":-63},{"s":506.0,"K":-61},{"s":506.4,"K":-65},{"s":507.3,"K":-65},{"s":507.6,"K":-62},{"s":508.0,"K":-61},{"s":508.2,"K":-63},{"s":508.4,"K":-62},{"s":508.7,"K":-61},{"s":509.0,"K":-62},
{"s":510.1,"K":-62},{"s":510.3,"K":-61},{"s":510.6,"K":-62},{"s":511.0,"K":-60},{"s":511.2,"K":-61},{"s":512.6,"K":-61},{"s":512.9,"K":-62},{"s":513.1,"K":-61},{"s":513.3,"K":-63},{"s":513.7,"K":-62},{"s":514.2,"K":-62},{"s":514.5,"K":-63},{"s":514.8,"K":-63},{"s":515.2,"K":-62},{"s":515.5,"K":-63},{"s":515.9,"K":-62},{"s":516.2,"K":-63},{"s":516.8,"K":-63},{"s":517.3,"K":-62},{"s":517.7,"K":-64},{"s":518.0,"K":-63},{"s":518.4,"K":-61},{"s":518.8,"K":-61},{"s":519.1,"K":-60},{"s":519.5,"K":-60},{"s":519.8,"K":-61},{"s":520.2,"K":-60},{"s":521.2,"K":-60},{"s":521.6,"K":-57},{"s":522.0,"K":-60},{"s":522.3,"K":-61},{"s":522.7,"K":-63},{"s":523.0,"K":-60},{"s":523.2,"K":-58},{"s":524.6,"K":-58},{"s":524.8,"K":-59},{"s":525.0,"K":-58},{"s":525.4,"K":-58},{"s":525.6,"K":-59},{"s":525.8,"K":-58},{"s":526.3,"K":-58},{"s":526.5,"K":-60},{"s":526.8,"K":-63},{"s":527.2,"K":-61},{"s":527.7,"K":-62},{"s":527.9,"K":-63},{"s":528.4,"K":-63},{"s":528.6,"K":-62},
{"s":529.0,"K":-62},{"s":529.2,"K":-61},{"s":529.5,"K":-62},
{"s":530.8,"K":-62},{"s":531.0,"K":-61},{"s":531.3,"K":-62},
{"s":534.9,"K":-62},{"s":535.1,"K":-61},{"s":535.4,"K":-62},
{"s":537.8,"K":-62},{"s":538.0,"K":-63},{"s":538.3,"K":-62},
{"s":541.2,"K":-62},{"s":541.4,"K":-63},{"s":541.7,"K":-62},
{"s":542.5,"K":-62},{"s":542.7,"K":-61},{"s":544.1,"K":-61},{"s":544.3,"K":-60},{"s":545.2,"K":-60},{"s":545.5,"K":-61},{"s":545.9,"K":-61},{"s":546.3,"K":-63},{"s":547.0,"K":-63},{"s":547.3,"K":-62},{"s":547.5,"K":-61},{"s":547.9,"K":-60},{"s":548.3,"K":-61},
{"s":548.6,"K":-60},{"s":548.9,"K":-61},{"s":549.2,"K":-60},{"s":549.5,"K":-61},{"s":549.8,"K":-60},{"s":550.1,"K":-61},{"s":550.5,"K":-62},{"s":550.8,"K":-61},{"s":551.0,"K":-60},{"s":551.3,"K":-61},{"s":551.6,"K":-62},{"s":551.9,"K":-61},{"s":552.2,"K":-60},{"s":552.5,"K":-61},{"s":552.8,"K":-60},{"s":553.1,"K":-61},{"s":553.4,"K":-60},{"s":553.7,"K":-60},{"s":554.0,"K":-61},{"s":554.3,"K":-60},{"s":554.6,"K":-61},{"s":554.9,"K":-60},{"s":555.2,"K":-61},{"s":555.5,"K":-60},{"s":555.9,"K":-61},{"s":556.6,"K":-61},{"s":556.9,"K":-62},{"s":557.2,"K":-61},{"s":557.5,"K":-60},{"s":557.8,"K":-61},{"s":558.1,"K":-60},{"s":558.4,"K":-61},{"s":558.8,"K":-60},{"s":559.1,"K":-61},{"s":559.5,"K":-62},{"s":559.8,"K":-61},{"s":561.7,"K":-61},{"s":562.0,"K":-60},{"s":562.3,"K":-61},{"s":562.7,"K":-62},{"s":563.0,"K":-61},{"s":565.4,"K":-61},{"s":565.7,"K":-60},{"s":566.0,"K":-61},{"s":566.3,"K":-60},{"s":566.7,"K":-61},{"s":567.0,"K":-60},{"s":567.3,"K":-60},{"s":567.6,"K":-61},{"s":567.9,"K":-60},{"s":568.2,"K":-61},
{"s":568.5,"K":-60},{"s":568.8,"K":-61},{"s":569.1,"K":-60},{"s":569.5,"K":-61},{"s":569.9,"K":-60},{"s":570.3,"K":-60},{"s":570.6,"K":-61},{"s":571.0,"K":-60},{"s":571.3,"K":-61},{"s":573.1,"K":-61},{"s":573.4,"K":-60},{"s":573.8,"K":-57},{"s":574.2,"K":-61},{"s":574.5,"K":-60},{"s":574.7,"K":-58},{"s":575.1,"K":-61},{"s":575.4,"K":-60},{"s":576.0,"K":-61},{"s":576.5,"K":-60},{"s":577.0,"K":-61},{"s":577.4,"K":-60},{"s":577.8,"K":-55},{"s":578.1,"K":-58},{"s":578.5,"K":-60},{"s":578.8,"K":-61},{"s":579.1,"K":-60},{"s":579.4,"K":-59},{"s":579.7,"K":-61},{"s":580.1,"K":-60},{"s":580.5,"K":-55},{"s":580.8,"K":-60},{"s":581.3,"K":-61},{"s":581.9,"K":-60},{"s":582.4,"K":-61},{"s":583.0,"K":-60},{"s":583.5,"K":-61},{"s":584.0,"K":-60},{"s":584.6,"K":-61},{"s":585.3,"K":-60},{"s":585.7,"K":-60},{"s":586.0,"K":-58},{"s":586.4,"K":-60},{"s":586.9,"K":-61},{"s":587.5,"K":-60},{"s":588.0,"K":-61},
{"s":588.4,"K":-60},{"s":588.8,"K":-61},{"s":589.2,"K":-60},{"s":589.6,"K":-61},{"s":589.9,"K":-60},{"s":590.2,"K":-58},{"s":590.5,"K":-61},{"s":590.9,"K":-61},{"s":591.3,"K":-60},{"s":591.6,"K":-61},{"s":592.0,"K":-61},{"s":592.4,"K":-60},{"s":592.8,"K":-61},{"s":593.2,"K":-60},{"s":593.5,"K":-61},{"s":593.9,"K":-61},{"s":594.2,"K":-60},{"s":594.6,"K":-61},{"s":595.0,"K":-60},{"s":595.3,"K":-61},{"s":595.7,"K":-60},{"s":596.0,"K":-61},{"s":596.4,"K":-60},{"s":596.8,"K":-61},{"s":597.1,"K":-61},{"s":597.5,"K":-60},{"s":597.9,"K":-61},{"s":598.2,"K":-60},{"s":598.6,"K":-60},{"s":599.0,"K":-61},{"s":599.3,"K":-60},{"s":599.7,"K":-61},{"s":600.0,"K":-60},{"s":600.4,"K":-61},{"s":600.7,"K":-60},{"s":601.1,"K":-61},{"s":601.4,"K":-60},{"s":601.8,"K":-61},{"s":602.1,"K":-60},{"s":602.5,"K":-61},{"s":602.9,"K":-60},{"s":603.2,"K":-61},{"s":603.6,"K":-61},{"s":603.9,"K":-60},{"s":604.3,"K":-61},{"s":604.6,"K":-60},{"s":605.0,"K":-61},{"s":605.4,"K":-60},{"s":605.7,"K":-61},{"s":606.1,"K":-60},{"s":606.4,"K":-59},{"s":606.7,"K":-61},{"s":607.0,"K":-60},{"s":607.3,"K":-61},{"s":607.6,"K":-60},{"s":608.0,"K":-61},
{"s":421.7,"B":-64},{"s":421.95,"B":-63},{"s":422.2,"B":-64},{"s":422.5,"B":-62},{"s":422.7,"B":-62},{"s":422.9,"B":-64},
{"s":424.1,"B":-64},{"s":424.3,"B":-63},{"s":424.5,"B":-64},
{"s":431.7,"B":-64},{"s":431.9,"B":-63},{"s":432.2,"B":-64},{"s":432.8,"B":-64},{"s":433.0,"B":-63},{"s":433.3,"B":-64},{"s":434.0,"B":-64},{"s":434.2,"B":-65},{"s":434.6,"B":-63},{"s":434.9,"B":-63},{"s":435.1,"B":-64},{"s":435.3,"B":-63},{"s":435.6,"B":-66},{"s":435.8,"B":-68},{"s":436.2,"B":-68},{"s":436.6,"B":-70},{"s":436.7,"B":-72},{"s":437.3,"B":-72},{"s":437.5,"B":-71},{"s":437.8,"B":-68},{"s":438.0,"B":-64},{"s":438.2,"B":-62},{"s":438.4,"B":-61},{"s":438.6,"B":-64},{"s":438.9,"B":-64},{"s":439.3,"B":-65},{"s":439.6,"B":-64},{"s":440.2,"B":-63},{"s":440.5,"B":-64},{"s":440.9,"B":-63},{"s":441.0,"B":-62},{"s":441.4,"B":-61},{"s":441.8,"B":-63},{"s":442.1,"B":-62},{"s":442.5,"B":-63},{"s":444.1,"B":-63},{"s":444.3,"B":-60},{"s":444.5,"B":-63},{"s":446.1,"B":-63},{"s":446.3,"B":-62},{"s":446.4,"B":-63},
{"s":447.9,"B":-63},{"s":448.2,"B":-61},{"s":448.5,"B":-63},{"s":450.4,"B":-63},{"s":451.3,"B":-64},{"s":451.6,"B":-64},{"s":452.2,"B":-65},{"s":452.7,"B":-65},{"s":453.1,"B":-64},{"s":453.4,"B":-65},{"s":454.0,"B":-63},{"s":454.3,"B":-65},{"s":454.7,"B":-62},{"s":455.1,"B":-63},{"s":455.6,"B":-65},{"s":455.9,"B":-62},{"s":456.3,"B":-63},{"s":456.7,"B":-64},{"s":457.0,"B":-63},{"s":457.4,"B":-64},{"s":458.3,"B":-65},{"s":458.6,"B":-64},{"s":459.2,"B":-64},{"s":459.5,"B":-63},{"s":461.9,"B":-63},{"s":462.2,"B":-64},{"s":462.6,"B":-63},{"s":462.9,"B":-64},{"s":463.3,"B":-63},{"s":465.5,"B":-63},{"s":465.8,"B":-62},{"s":466.1,"B":-64},{"s":468.4,"B":-64},{"s":468.6,"B":-63},{"s":468.9,"B":-63},{"s":469.1,"B":-64},{"s":469.7,"B":-64},{"s":470.0,"B":-63},{"s":471.8,"B":-63},{"s":472.2,"B":-59},{"s":472.5,"B":-62},{"s":473.1,"B":-63},{"s":473.4,"B":-64},{"s":473.8,"B":-63},{"s":474.1,"B":-62},{"s":474.7,"B":-63},{"s":475.2,"B":-62},{"s":475.8,"B":-61},{"s":476.1,"B":-62},{"s":476.5,"B":-62},{"s":476.8,"B":-63},{"s":477.4,"B":-62},{"s":478.3,"B":-62},{"s":478.6,"B":-64},{"s":479.2,"B":-66},{"s":479.5,"B":-67},{"s":479.9,"B":-68},{"s":480.3,"B":-63},{"s":480.6,"B":-62},{"s":481.0,"B":-59},{"s":481.3,"B":-63},{"s":481.7,"B":-61},{"s":482.0,"B":-62},{"s":482.4,"B":-63},{"s":482.8,"B":-60},{"s":483.1,"B":-64},{"s":483.5,"B":-67},{"s":483.8,"B":-67},{"s":484.2,"B":-68},{"s":484.6,"B":-67},{"s":485.1,"B":-62},{"s":485.5,"B":-64},{"s":485.8,"B":-63},{"s":486.2,"B":-64},{"s":486.5,"B":-63},{"s":486.9,"B":-64},{"s":487.3,"B":-65},{"s":487.6,"B":-64},
{"s":494.1,"B":-64},{"s":494.3,"B":-63},{"s":494.5,"B":-64},{"s":496.8,"B":-64},{"s":497.0,"B":-63},{"s":497.2,"B":-64},{"s":503.1,"B":-64},{"s":503.3,"B":-63},{"s":503.5,"B":-64},
{"s":511.5,"B":-64},{"s":511.7,"B":-61},{"s":511.9,"B":-64},{"s":513.0,"B":-64},{"s":513.2,"B":-61},{"s":513.5,"B":-63},{"s":513.8,"B":-61},{"s":514.1,"B":-64},{"s":515.0,"B":-64},{"s":515.2,"B":-62},{"s":515.4,"B":-64},{"s":515.9,"B":-64},{"s":516.1,"B":-62},{"s":516.3,"B":-64},{"s":516.6,"B":-63},{"s":516.8,"B":-64},{"s":517.5,"B":-64},{"s":517.7,"B":-62},{"s":518.0,"B":-64},{"s":520.9,"B":-64},{"s":521.1,"B":-63},{"s":521.3,"B":-64},{"s":522.1,"B":-64},{"s":522.3,"B":-63},{"s":522.5,"B":-64},{"s":522.7,"B":-63},{"s":522.9,"B":-64},{"s":527.2,"B":-64},{"s":527.4,"B":-63},{"s":527.6,"B":-64},
{"s":532.4,"B":-64},{"s":532.6,"B":-63},{"s":532.8,"B":-64},{"s":534.2,"B":-64},{"s":534.4,"B":-67},{"s":534.6,"B":-64},{"s":536.4,"B":-64},{"s":536.6,"B":-62},{"s":536.8,"B":-64},
{"s":550.1,"B":-64},{"s":550.3,"B":-63},{"s":550.5,"B":-64},{"s":562.7,"B":-64},{"s":562.9,"B":-63},{"s":563.1,"B":-64},
{"s":568.4,"B":-64},{"s":568.6,"B":-63},{"s":568.8,"B":-64},{"s":577.7,"B":-64},{"s":577.9,"B":-62},{"s":578.1,"B":-64},{"s":579.0,"B":-64},{"s":579.2,"B":-63},{"s":579.4,"B":-64},{"s":582.2,"B":-64},{"s":582.4,"B":-62},{"s":582.6,"B":-64},{"s":583.7,"B":-64},{"s":583.9,"B":-62},{"s":584.1,"B":-64},
{"s":592.2,"B":-64},{"s":592.4,"B":-63},{"s":592.6,"B":-64},{"s":595.8,"B":-64},{"s":596.0,"B":-63},{"s":596.2,"B":-64}
]},
"transform": [
{"fold": ["L","B","K","T","D","H"], "as": ["k","v"]},
{"filter": "isValid(datum.v)"},
{"lookup": "k", "from": {"data": {"values": [
{"k":"L","room":"Living Room"},{"k":"B","room":"Bedroom"},{"k":"K","room":"Kitchen"},
{"k":"T","room":"Bathroom"},{"k":"D","room":"Dining Room"},{"k":"H","room":"Hall"}
]}, "key": "k", "fields": ["room"]}}
],
"encoding": {
"x": {"field": "s", "type": "quantitative",
 "scale": {"domain": [407.9, 608.4], "nice": false, "zero": false},
 "axis": {"values": [420,450,480,510,540,570,600],
  "labelExpr": "timeFormat(datetime(2024,0,1,20,0,datum.value), '%H:%M:%S')",
  "title": null, "grid": true, "gridColor": "#2f3237", "gridWidth": 1.5,
  "domain": false, "ticks": false, "labelFontSize": 39, "labelColor": "#ccccdc",
  "labelFont": "Inter", "labelPadding": 22, "labelFlush": false}},
"y": {"field": "v", "type": "quantitative",
 "scale": {"domain": [-88.9, -51.8], "nice": false, "zero": false},
 "axis": {"values": [-80,-70,-60], "title": null, "grid": true, "gridColor": "#2f3237",
  "gridWidth": 1.5, "domain": false, "ticks": false, "labelFontSize": 39,
  "labelColor": "#ccccdc", "labelFont": "Inter", "labelPadding": 29}},
"color": {"field": "room", "type": "nominal",
 "scale": {"domain": ["Living Room","Bedroom","Kitchen","Bathroom","Dining Room","Hall"],
  "range": ["#73BF69","#FADE2A","#8AB8FF","#FF780A","#F2495C","#5794F2"]},
 "legend": {"title": null, "orient": "none", "direction": "horizontal",
  "legendX": -39, "legendY": 742, "labelFontSize": 40, "labelColor": "#ccccdc",
  "labelFont": "Inter", "symbolType": "stroke", "symbolSize": 2304,
  "symbolStrokeWidth": 9, "labelOffset": 26, "columnPadding": 18, "labelLimit": 400}}
},
"layer": [
{"transform": [{"filter": "datum.k === 'L'"}], "mark": {"type": "line", "strokeWidth": 3, "strokeJoin": "round"}},
{"transform": [{"filter": "datum.k === 'B'"}], "mark": {"type": "line", "strokeWidth": 3, "strokeJoin": "round"}},
{"transform": [{"filter": "datum.k === 'K'"}], "mark": {"type": "line", "strokeWidth": 3, "strokeJoin": "round"}},
{"transform": [{"filter": "datum.k === 'T'"}], "mark": {"type": "line", "strokeWidth": 3, "strokeJoin": "round"}},
{"transform": [{"filter": "datum.k === 'D'"}], "mark": {"type": "line", "strokeWidth": 3, "strokeJoin": "round"}},
{"transform": [{"filter": "datum.k === 'H'"}], "mark": {"type": "line", "strokeWidth": 3, "strokeJoin": "round"}}
]
}
